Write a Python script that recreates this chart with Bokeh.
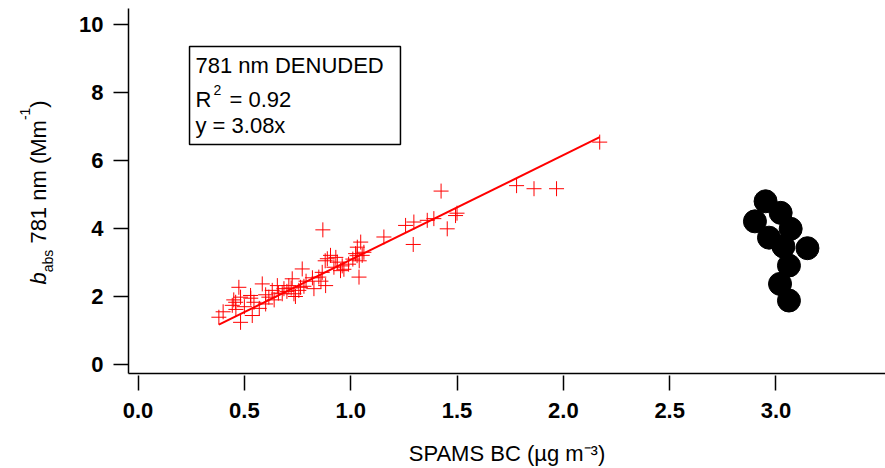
import math
from bokeh.plotting import figure
from bokeh.layouts import row
from bokeh.models import Range1d, FixedTicker, NumeralTickFormatter, Label, BoxAnnotation
from bokeh.embed import file_html
from bokeh.resources import INLINE

# SPAMS BC (ug m-3) vs b_abs 781 nm denuded (Mm-1)
bc = [0.380, 0.443, 0.459, 0.474, 0.482, 0.482, 0.537, 0.545, 0.529, 0.584,
      0.615, 0.631, 0.655, 0.678, 0.686, 0.709, 0.725, 0.733, 0.756, 0.764,
      0.772, 0.780, 0.827, 0.850, 0.866, 0.869, 0.882, 0.890, 0.905, 0.921,
      0.937, 0.952, 0.968, 1.023, 1.031, 1.047, 1.039, 1.054, 1.062, 1.156,
      1.258, 1.297, 1.294, 1.360, 1.391, 1.454, 1.425, 1.493, 1.780, 1.862,
      1.968, 2.171, 0.400, 0.460, 0.500, 0.570, 0.600, 0.640, 0.660, 0.700,
      0.720, 0.740, 0.790, 0.820, 0.860, 0.880, 0.930, 1.010, 1.030, 1.040,
      0.530, 0.600, 0.450, 1.500, 0.990, 0.960]
babs = [1.39, 1.74, 1.83, 2.27, 1.24, 1.98, 1.44, 1.83, 2.03, 2.37,
        1.98, 2.18, 2.32, 2.08, 2.23, 2.32, 2.52, 2.08, 2.18, 2.27,
        2.81, 2.30, 2.23, 2.57, 2.71, 3.96, 2.32, 3.11, 3.21, 2.86,
        3.01, 2.76, 2.80, 3.26, 3.45, 3.60, 2.57, 3.21, 3.30, 3.75,
        4.09, 4.19, 3.53, 4.24, 4.29, 3.99, 5.10, 4.38, 5.26, 5.17,
        5.17, 6.54, 1.55, 1.62, 1.70, 1.65, 2.05, 1.90, 2.10, 2.15,
        2.25, 2.00, 2.45, 2.55, 2.45, 3.05, 3.15, 3.10, 3.20, 3.05,
        1.95, 1.78, 1.90, 4.45, 2.95, 2.90]

# black markers at the right
dot_x = [2.951, 2.901, 3.022, 3.069, 2.967, 3.035, 3.148, 3.061, 3.019, 3.061]
dot_y = [4.80, 4.21, 4.46, 3.99, 3.73, 3.47, 3.42, 2.91, 2.37, 1.88]

slope = 3.08
r2 = 0.92
fit_x = [min(bc), max(bc)]
fit_y = [slope * v for v in fit_x]

x_ticks = [0.0, 0.5, 1.0, 1.5, 2.0, 2.5, 3.0]
y_ticks = [0, 2, 4, 6, 8, 10]

FONT = "Liberation Sans"
LW = 60  # width of the strip holding the y-axis title

# ---------------- main plot ----------------
p = figure(width=885 - LW, height=468, output_backend="svg", toolbar_location=None,
           x_range=Range1d(-0.045, 3.515), y_range=Range1d(-0.265, 10.47),
           min_border_left=128 - LW, min_border_right=0, min_border_top=8,
           min_border_bottom=95)
p.grid.visible = False
p.outline_line_color = None
p.background_fill_color = "white"
p.border_fill_color = "white"

xa = p.xaxis[0]
xa.ticker = FixedTicker(ticks=x_ticks)
xa.formatter = NumeralTickFormatter(format="0.0")
xa.minor_tick_line_color = None
xa.major_tick_in = -2
xa.major_tick_out = 17
xa.major_tick_line_width = 1.5
xa.axis_line_width = 1.5
xa.major_label_text_font = FONT
xa.major_label_text_font_size = "22px"
xa.major_label_text_font_style = "bold"
xa.major_label_text_color = "black"
xa.major_label_standoff = 12
xa.axis_label = "SPAMS BC (µg m⁻³)"
xa.axis_label_text_font = FONT
xa.axis_label_text_font_size = "22px"
xa.axis_label_text_font_style = "normal"
xa.axis_label_text_color = "black"
xa.axis_label_standoff = 20

ya = p.yaxis[0]
ya.ticker = FixedTicker(ticks=y_ticks)
ya.minor_tick_line_color = None
ya.major_tick_in = 0
ya.major_tick_out = 15
ya.major_tick_line_width = 1.5
ya.axis_line_width = 1.5
ya.major_label_text_font = FONT
ya.major_label_text_font_size = "22px"
ya.major_label_text_font_style = "bold"
ya.major_label_text_color = "black"
ya.major_label_standoff = 10

p.scatter(bc, babs, marker="cross", size=15, line_color="red", line_width=1)
p.line(fit_x, fit_y, line_color="red", line_width=2)
p.scatter(dot_x, dot_y, marker="circle", size=23, fill_color="black", line_color="black")

p.add_layout(BoxAnnotation(left=0.242, right=1.234, top=9.35, bottom=6.47,
                           fill_color="white", fill_alpha=1.0,
                           line_color="black", line_alpha=1.0, line_width=1.5,
                           level="annotation"))

def lab(fig, x, y, text, size="22px", **kw):
    fig.add_layout(Label(x=x, y=y, text=text, text_font=FONT, text_font_size=size,
                         text_color="black", text_baseline="alphabetic",
                         text_align="left", **kw))

# fit statistics box
lab(p, 0.270, 8.794, "781 nm DENUDED")
lab(p, 0.270, 7.794, "R")
lab(p, 0.3547, 8.06, "2", size="14px")
lab(p, 0.4299, 7.794, f"= {r2:.2f}")
lab(p, 0.270, 7.03, f"y = {slope:.2f}x")

# ---------------- y-axis title strip ----------------
# its frame is aligned with the main frame (pixels 8..373), so data = pixels
q = figure(width=LW, height=468, output_backend="svg", toolbar_location=None,
           x_range=Range1d(0, LW), y_range=Range1d(373, 8),
           x_axis_location=None, y_axis_location=None, min_border=0)
q.grid.visible = False
q.outline_line_color = None
q.background_fill_color = "white"
q.border_fill_color = "white"

rot = dict(angle=math.pi / 2)
lab(q, 38, 284.0, "b", text_font_style="italic", **rot)
lab(q, 47, 271.8, "abs", size="14px", **rot)
lab(q, 38, 243.1, "781 nm (Mm", **rot)
lab(q, 24, 119.6, "-1", size="14px", **rot)
lab(q, 38, 107.2, ")", **rot)

layout = row(q, p, spacing=0)
open("out.html", "w").write(file_html(layout, INLINE))
